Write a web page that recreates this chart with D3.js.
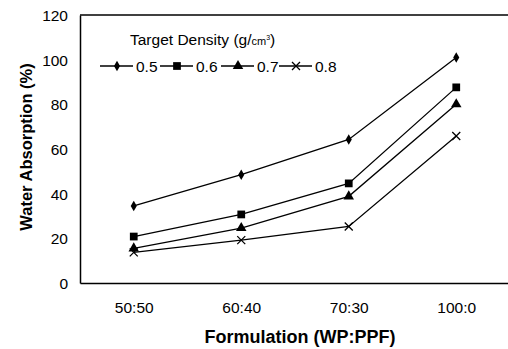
<!DOCTYPE html>
<meta charset="utf-8">
<style>
  body { margin: 0; background: #fff; }
  svg text { font-family: "Liberation Sans", Arial, sans-serif; fill: #000; }
  .axis path { stroke: #000; stroke-width: 1.5px; }
  .axis text { font-size: 15.5px; }
  .series { fill: none; stroke: #000; stroke-width: 1.3px; }
</style>
<body>
<script src="https://d3js.org/d3.v7.min.js"></script>
<script>

var formulations = ["50:50", "60:40", "70:30", "100:0"];
var densities = ["0.5", "0.6", "0.7", "0.8"];
var absorb05 = [34.5, 48.5, 64.3, 101];
var absorb06 = [20.8, 30.7, 44.6, 87.6];
var absorb07 = [15.5, 24.6, 38.8, 80];
var absorb08 = [13.7, 19.2, 25.3, 65.8];
var yTicks = [0, 20, 40, 60, 80, 100, 120];

var seriesValues = [absorb05, absorb06, absorb07, absorb08];
var markerTypes = [d3.symbolDiamond, d3.symbolSquare, d3.symbolTriangle, d3.symbolCross];
var markerSizes = [32, 60, 48, 0];

var W = 508, H = 349;
var margin = {top: 15, right: -2, bottom: 66, left: 80};
var w = W - margin.left - margin.right,
    h = H - margin.top - margin.bottom;

var svg = d3.select("body").append("svg")
    .attr("width", W)
    .attr("height", H);

var chart = svg.append("g")
    .attr("transform", "translate(" + margin.left + "," + margin.top + ")");

var x = d3.scalePoint().domain(formulations).range([0, w]).padding(0.5);
var y = d3.scaleLinear().domain([0, 120]).range([h, 0]);

// top border line
chart.append("line")
    .attr("x1", 0).attr("x2", w)
    .attr("y1", 0).attr("y2", 0)
    .attr("stroke", "#000").attr("stroke-width", 1.5);

var xaxis = chart.append("g")
    .attr("class", "axis")
    .attr("transform", "translate(0," + h + ")")
    .call(d3.axisBottom(x).tickSize(0).tickPadding(19).tickSizeOuter(0));
xaxis.selectAll(".tick line").remove();

var yaxis = chart.append("g")
    .attr("class", "axis")
    .call(d3.axisLeft(y).tickValues(yTicks).tickSize(0).tickPadding(12).tickSizeOuter(0));
yaxis.selectAll(".tick line").remove();
yaxis.selectAll(".tick text").attr("dy", "0.36em");

// axis titles
svg.append("text")
    .attr("x", 300)
    .attr("y", 343)
    .attr("text-anchor", "middle")
    .style("font-size", "18px")
    .style("font-weight", "bold")
    .text("Formulation (WP:PPF)");

svg.append("text")
    .attr("transform", "translate(32,147) rotate(-90)")
    .attr("text-anchor", "middle")
    .style("font-size", "16.5px")
    .style("font-weight", "bold")
    .text("Water Absorption (%)");

var line = d3.line()
    .x(function(d, i) { return x(formulations[i]); })
    .y(function(d) { return y(d); });

function drawMarker(g, k) {
  if (k === 3) {
    g.append("path")
      .attr("d", "M-4,-4L4,4M-4,4L4,-4")
      .attr("stroke", "#000").attr("stroke-width", 1.3).attr("fill", "none");
  } else {
    g.append("path")
      .attr("d", d3.symbol().type(markerTypes[k]).size(markerSizes[k])())
      .attr("fill", "#000");
  }
}

seriesValues.forEach(function(vals, k) {
  chart.append("path")
    .datum(vals)
    .attr("class", "series")
    .attr("d", line);

  chart.selectAll("g.pt" + k)
    .data(vals)
    .enter()
    .append("g")
    .attr("class", "pt" + k)
    .attr("transform", function(d, i) {
      return "translate(" + x(formulations[i]) + "," + y(d) + ")";
    })
    .each(function() { drawMarker(d3.select(this), k); });
});

// legend
var legTitle = svg.append("text")
    .attr("x", 130)
    .attr("y", 45)
    .style("font-size", "15.5px");
legTitle.append("tspan").text("Target Density (g/");
legTitle.append("tspan").style("font-size", "11px").text("cm");
legTitle.append("tspan").style("font-size", "7px").attr("dy", "-5").text("3");
legTitle.append("tspan").attr("dy", "5").text(")");

var legX = [100, 160, 221, 279];
densities.forEach(function(dn, k) {
  var g = svg.append("g").attr("transform", "translate(" + legX[k] + ",66)");
  g.append("line").attr("x1", 0).attr("x2", 33).attr("y1", 0).attr("y2", 0)
    .attr("stroke", "#000").attr("stroke-width", 1.3);
  drawMarker(g.append("g").attr("transform", "translate(17,0)"), k);
  g.append("text").attr("x", 36).attr("y", 5.5).style("font-size", "15.5px").text(dn);
});

</script>
</body>
